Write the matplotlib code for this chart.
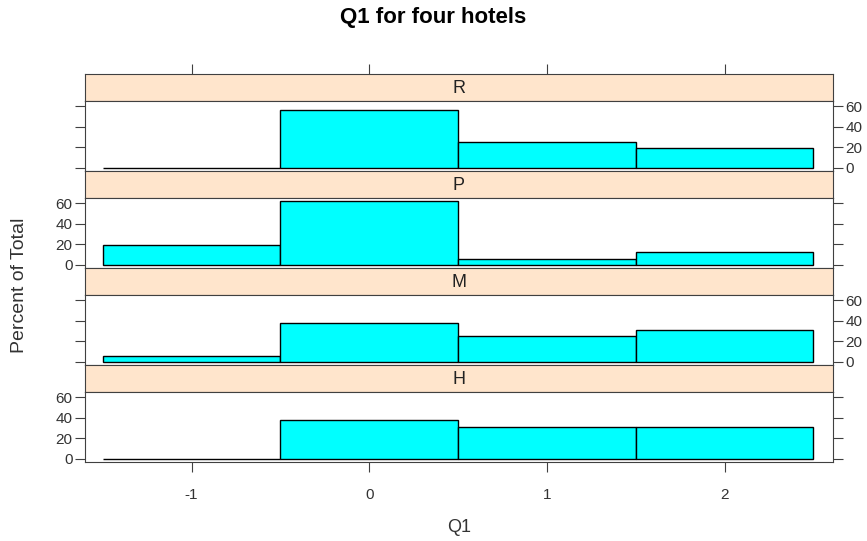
import matplotlib.pyplot as plt
import numpy as np

plt.rcParams['font.family'] = ['Liberation Sans', 'DejaVu Sans']
plt.rcParams['axes.unicode_minus'] = False

# data
hotels = ['R', 'P', 'M', 'H']
q1_levels = [-1, 0, 1, 2]
pct_R = [0, 56, 25, 19]
pct_P = [19, 62, 6, 13]
pct_M = [6, 38, 25, 31]
pct_H = [0, 38, 31, 31]
values = {'R': pct_R, 'P': pct_P, 'M': pct_M, 'H': pct_H}
y_ticks = [0, 20, 40, 60]

W, H = 867, 541
fig = plt.figure(figsize=(W / 100, H / 100), dpi=100)

left, right = 85, 833
top = 74
strip_h, panel_h = 27, 70
frame = '#404040'

def fx(px):
    return px / W

def fy(py):
    return 1 - py / H

for i, hotel in enumerate(hotels):
    y0 = top + i * (strip_h + panel_h)
    # strip
    sax = fig.add_axes([fx(left), fy(y0 + strip_h), fx(right - left), strip_h / H])
    sax.set_facecolor('#FFE5CC')
    sax.set_xlim(-1.6, 2.61)
    sax.set_ylim(0, 1)
    sax.text(0.5, 0.45, hotel, ha='center', va='center', fontsize=13,
             color='#222222', transform=sax.transAxes)
    sax.set_yticks([])
    for s in sax.spines.values():
        s.set_color(frame)
    if i == 0:
        sax.set_xticks(q1_levels)
        sax.tick_params(axis='x', top=True, bottom=False, labeltop=False,
                        labelbottom=False, direction='out', length=7, color=frame)
    else:
        sax.set_xticks([])

    # panel
    ax = fig.add_axes([fx(left), fy(y0 + strip_h + panel_h), fx(right - left), panel_h / H])
    ax.bar(q1_levels, values[hotel], width=1.0, color='#00FFFF', edgecolor='black', linewidth=1)
    ax.set_xlim(-1.6, 2.61)
    ax.set_ylim(-3, 65)
    ax.set_yticks(y_ticks)
    for s in ax.spines.values():
        s.set_color(frame)
    labels_right = (i % 2 == 0)
    ax.tick_params(axis='y', left=True, right=True, labelleft=not labels_right,
                   labelright=labels_right, direction='out', length=7,
                   color=frame, labelsize=11, labelcolor='#333333', pad=2)
    if i == len(hotels) - 1:
        ax.set_xticks(q1_levels)
        ax.tick_params(axis='x', direction='out', length=7, color=frame,
                       labelsize=11, labelcolor='#333333', pad=12)
        ax.set_xlabel('Q1', fontsize=13, labelpad=12, color='#333333')
    else:
        ax.set_xticks([])

fig.text(0.5, fy(18), 'Q1 for four hotels', ha='center', va='center',
         fontsize=16, fontweight='bold')
fig.text(fx(20), fy(285), 'Percent of Total', ha='center', va='center',
         rotation=90, fontsize=14, color='#333333')

fig.savefig('out.png', dpi=100)
